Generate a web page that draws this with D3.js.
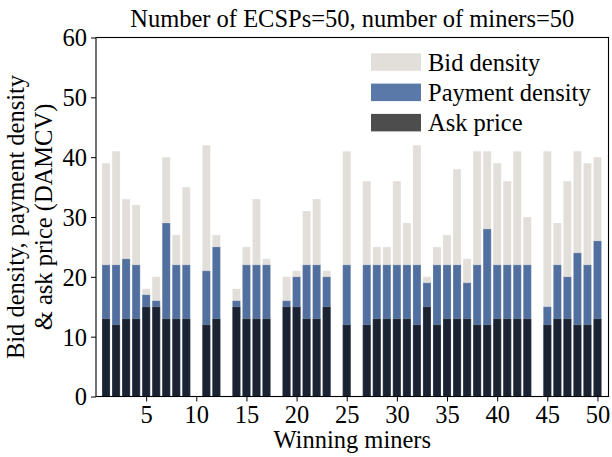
<!DOCTYPE html>
<html>
<head>
<meta charset="utf-8">
<script src="https://cdn.jsdelivr.net/npm/d3@7"></script>
<style>
  html, body { margin: 0; padding: 0; background: #fff; }
  svg { display: block; font-family: "Liberation Serif", "Times New Roman", serif; }
</style>
</head>
<body>
<svg id="chart" width="612" height="457"></svg>
<script>
// ---- data ----
const miners = d3.range(1, 51);
const bidDensity = [39,41,33,32,18,20,40,27,35,0, 42,27,0,18,25,33,23,0,20,21,
                    31,33,21,0,41,0,36,25,25,36, 29,42,20,25,27,38,23,41,41,39,
                    36,41,30,0,41,29,36,41,39,40];
const paymentDensity = [22,22,23,22,17,16,29,22,22,0, 21,25,0,16,22,22,22,0,16,20,
                        22,22,20,0,22,0,22,22,22,22, 22,22,19,22,22,22,19,22,28,22,
                        22,22,22,0,15,22,20,24,22,26];
const askPrice = [13,12,13,13,15,15,13,13,13,0, 12,13,0,15,13,13,13,0,15,15,
                  13,13,15,0,12,0,12,13,13,13, 13,12,15,12,13,13,13,12,12,13,
                  13,13,13,0,12,13,13,12,12,13];
const xTicks = [5,10,15,20,25,30,35,40,45,50];
const yTicks = [0,10,20,30,40,50,60];
const seriesNames = ["Bid density", "Payment density", "Ask price"];

(function () {
const svg = d3.select("#chart");
const pL = 96, pR = 608.5, pT = 37.5, pB = 396.5;
const FS = 24.5;

const x = d3.scaleLinear().domain([0, 51.1]).range([pL, pR]);
const y = d3.scaleLinear().domain([0, 60]).range([pB, pT]);
const bw = x(0.8) - x(0);

const series = [
  {name: seriesNames[0], vals: bidDensity, color: "#e2deda", legend: "#e2deda"},
  {name: seriesNames[1], vals: paymentDensity, color: "#52709f", legend: "#5a78a8"},
  {name: seriesNames[2], vals: askPrice, color: "#1b2333", legend: "#4d4d4d"}
];

series.forEach(s => {
  svg.append("g").selectAll("rect")
    .data(miners.map((m, i) => ({m, v: s.vals[i]})).filter(d => d.v > 0))
    .join("rect")
    .attr("x", d => x(d.m) - bw / 2)
    .attr("width", bw)
    .attr("y", d => y(d.v))
    .attr("height", d => y(0) - y(d.v))
    .attr("fill", s.color)
    .attr("stroke", "#ffffff")
    .attr("stroke-opacity", 0.25)
    .attr("stroke-width", 0.8);
});

// axes
const xAxis = d3.axisBottom(x).tickValues(xTicks).tickSize(5).tickSizeOuter(0).tickPadding(5);
const gx = svg.append("g").attr("transform", `translate(0,${pB})`).call(xAxis);
gx.select(".domain").remove();
gx.selectAll("text").attr("font-size", FS).attr("font-family", "Liberation Serif").attr("fill", "#000").attr("dy", "0.68em");
gx.selectAll("line").attr("stroke", "#000").attr("stroke-width", 1);

const yAxis = d3.axisLeft(y).tickValues(yTicks).tickSize(5).tickSizeOuter(0).tickPadding(4);
const gy = svg.append("g").attr("transform", `translate(${pL},0)`).call(yAxis);
gy.select(".domain").remove();
gy.selectAll("text").attr("font-size", FS).attr("font-family", "Liberation Serif").attr("fill", "#000").attr("dy", "0.34em");
gy.selectAll("line").attr("stroke", "#000").attr("stroke-width", 1);

// frame
svg.append("rect").attr("x", pL).attr("y", pT)
  .attr("width", pR - pL).attr("height", pB - pT)
  .attr("fill", "none").attr("stroke", "#000").attr("stroke-width", 1.1);

// title
svg.append("text").attr("x", (pL + pR) / 2).attr("y", 27)
  .attr("text-anchor", "middle").attr("font-size", FS)
  .text("Number of ECSPs=50, number of miners=50");

// x label
svg.append("text").attr("x", (pL + pR) / 2).attr("y", 448)
  .attr("text-anchor", "middle").attr("font-size", FS)
  .text("Winning miners");

// y label
const yl = svg.append("text")
  .attr("transform", `translate(24,${(pT + pB) / 2}) rotate(-90)`)
  .attr("text-anchor", "middle").attr("font-size", FS);
yl.append("tspan").attr("x", 0).attr("y", 0).text("Bid density, payment density");
yl.append("tspan").attr("x", 0).attr("y", 27.5).text("& ask price (DAMCV)");

// legend
const lg = svg.append("g");
series.forEach((s, i) => {
  const cy = 62 + i * 30.3;
  lg.append("rect").attr("x", 371).attr("y", cy - 8.7).attr("width", 50).attr("height", 17.5).attr("fill", s.legend);
  lg.append("text").attr("x", 428).attr("y", cy + 8.6).attr("font-size", FS).text(s.name);
});
})();
</script>
</body>
</html>
